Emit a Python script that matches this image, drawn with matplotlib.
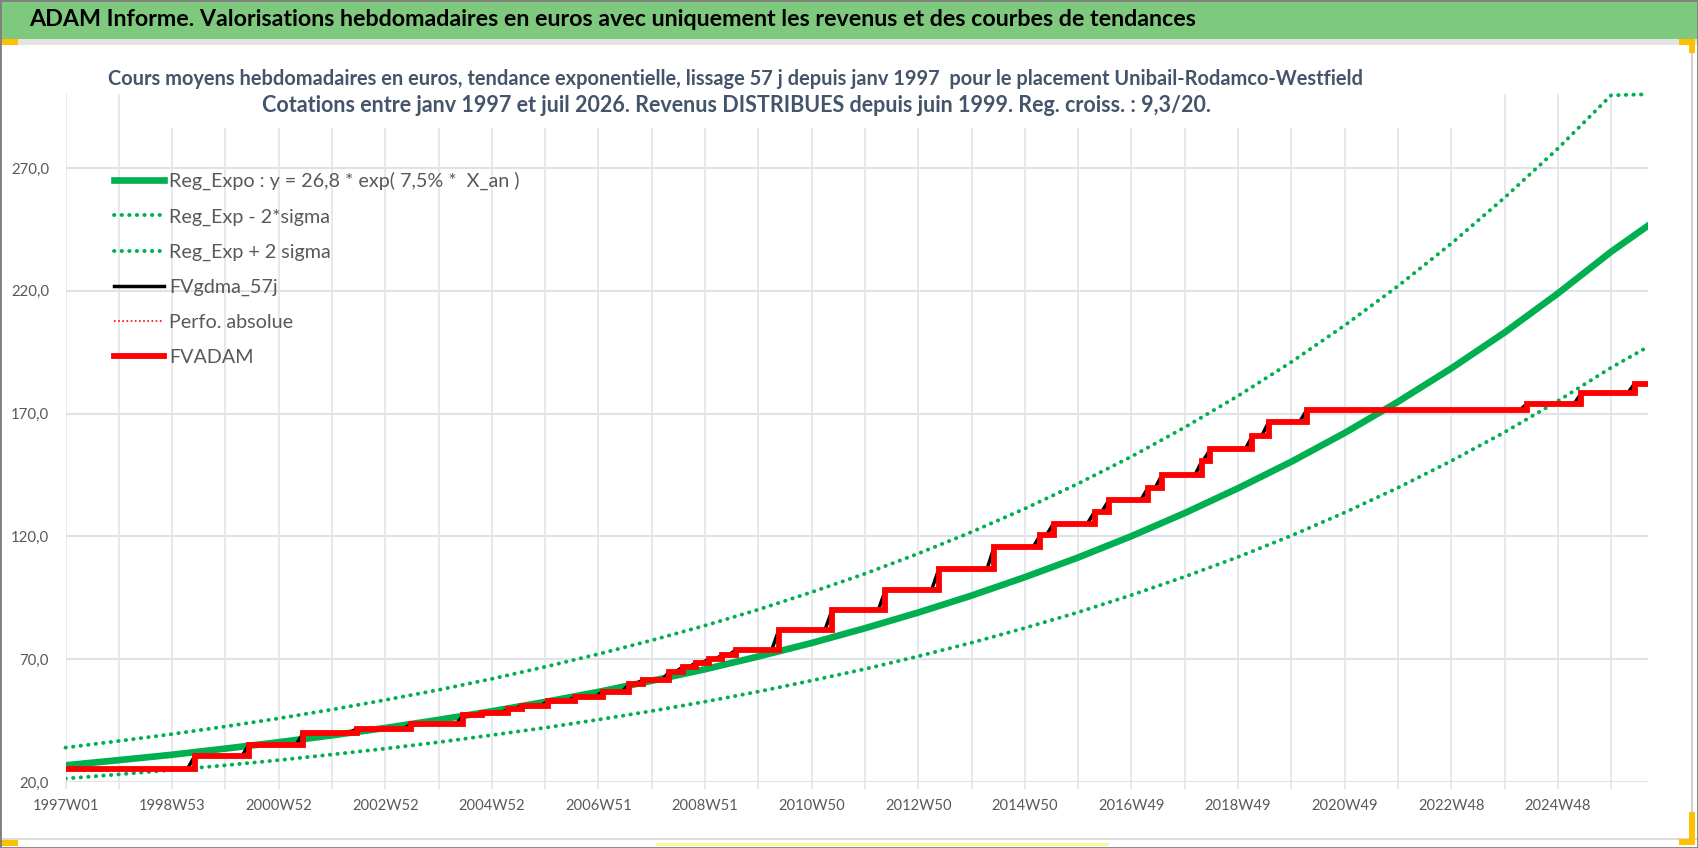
import matplotlib
matplotlib.use("Agg")
import matplotlib.pyplot as plt
from matplotlib.patches import Rectangle

W, H = 1698, 848
DPI = 100

# ---- data (x = week index since 1997W01) ----
week_labels = ["1997W01", "1998W53", "2000W52", "2002W52", "2004W52", "2006W51",
               "2008W51", "2010W50", "2012W50", "2014W50", "2016W49", "2018W49",
               "2020W49", "2022W48", "2024W48"]
last_week = 1544

# trend curves, one reading per year + last week
trend_weeks = list(range(0, 1509, 52)) + [last_week]
reg_expo = [26.8, 28.9, 31.1, 33.6, 36.2, 39.0, 42.0, 45.3, 48.8, 52.6, 56.7, 61.2,
            65.9, 71.1, 76.6, 82.6, 89.0, 95.9, 103.4, 111.4, 120.1, 129.5, 139.6,
            150.4, 162.1, 174.8, 188.4, 203.0, 218.9, 235.9, 246.5]
reg_minus = [21.4, 23.1, 24.9, 26.8, 28.9, 31.2, 33.6, 36.2, 39.1, 42.1, 45.4, 48.9,
             52.7, 56.8, 61.3, 66.0, 71.2, 76.7, 82.7, 89.1, 96.1, 103.6, 111.6,
             120.3, 129.7, 139.8, 150.7, 162.4, 175.1, 188.7, 197.2]
reg_plus = [34.0, 36.7, 39.5, 42.6, 45.9, 49.5, 53.4, 57.5, 62.0, 66.9, 72.1, 77.7,
            83.7, 90.2, 97.3, 104.8, 113.0, 121.8, 131.3, 141.5, 152.5, 164.4, 177.2,
            191.0, 205.9, 221.9, 239.2, 257.9, 277.9, 299.6, 300.0]

# FVADAM: week of each step and level after it
step_weeks = [0, 126, 179, 232, 284, 337, 388, 406, 432, 445, 471, 497, 524, 550,
              563, 589, 602, 615, 628, 641, 654, 696, 748, 800, 852, 906, 951, 964,
              1004, 1018, 1056, 1070, 1109, 1117, 1158, 1174, 1211, 1426, 1479, 1531]
fvadam = [25.4, 30.5, 35.2, 40.0, 41.7, 43.5, 47.2, 48.2, 49.7, 51.1, 53.0, 54.7,
          56.8, 59.8, 61.5, 64.9, 66.7, 68.6, 70.1, 71.7, 73.7, 82.0, 90.0, 98.2,
          106.6, 115.6, 120.5, 125.2, 130.0, 134.7, 139.7, 145.1, 150.8, 155.5,
          160.9, 166.6, 171.4, 174.1, 178.3, 182.2]
smooth_lead = 7  # FVgdma_57j climbs this many weeks before each step

y_ticks = [20, 70, 120, 170, 220, 270]

legend_labels = ["Reg_Expo : y = 26,8 * exp( 7,5% *  X_an )", "Reg_Exp - 2*sigma",
                 "Reg_Exp + 2 sigma", "FVgdma_57j", "Perfo. absolue", "FVADAM"]

title = ("ADAM Informe. Valorisations hebdomadaires en euros avec uniquement "
         "les revenus et des courbes de tendances")
sub1 = ("Cours moyens hebdomadaires en euros, tendance exponentielle, lissage 57 j "
        "depuis janv 1997  pour le placement Unibail-Rodamco-Westfield")
sub2 = ("Cotations entre janv 1997 et juil 2026. Revenus DISTRIBUES depuis juin 1999. "
        "Reg. croiss. : 9,3/20.")

GREEN = "#00B050"
GRID = "#DFE2E8"
GREY_TXT = "#595959"
DOTS = (0, (0.1, 1.85))

plt.rcParams["font.family"] = ["Lato", "DejaVu Sans"]

fig = plt.figure(figsize=(W / DPI, H / DPI), dpi=DPI)


def fx(px):
    return px / W


def fy(py):
    return 1 - py / H


def box(x0, y0, x1, y1, color, z=1):
    fig.patches.append(Rectangle((fx(x0), fy(y1)), fx(x1) - fx(x0), fy(y0) - fy(y1),
                                 transform=fig.transFigure, facecolor=color,
                                 edgecolor="none", zorder=z))


ax = fig.add_axes([fx(65.5), fy(782), fx(1648) - fx(65.5), fy(94.3) - fy(782)])

ax.plot(trend_weeks, reg_expo, color=GREEN, lw=4.8, label=legend_labels[0])
ax.plot(trend_weeks, reg_minus, color=GREEN, lw=2.8, ls=DOTS, dash_capstyle="round",
        label=legend_labels[1])
ax.plot(trend_weeks, reg_plus, color=GREEN, lw=2.8, ls=DOTS, dash_capstyle="round",
        clip_on=False, label=legend_labels[2])

gx, gy = [step_weeks[0]], [fvadam[0]]
for i in range(1, len(step_weeks)):
    gx += [step_weeks[i] - smooth_lead, step_weeks[i]]
    gy += [fvadam[i - 1], fvadam[i]]
gx.append(last_week)
gy.append(fvadam[-1])
ax.plot(gx, gy, color="black", lw=2.5, label=legend_labels[3])

sx = step_weeks + [last_week]
sy = fvadam + [fvadam[-1]]
ax.step(sx, sy, where="post", color="red", lw=1.2, ls=(0, (1, 1.5)),
        label=legend_labels[4])
ax.step(sx, sy, where="post", color="red", lw=4.2, solid_joinstyle="miter",
        label=legend_labels[5])

ax.set_xlim(0, last_week)
ax.set_ylim(20, 300)
ax.set_xticks(range(0, 1457, 104))
ax.set_xticklabels(week_labels)
ax.set_xticks(range(0, last_week + 1, 52), minor=True)
ax.set_yticks(y_ticks)
ax.set_yticklabels([f"{v:.1f}".replace(".", ",") for v in y_ticks])
for s in ax.spines.values():
    s.set_visible(False)
ax.set_axisbelow(True)
ax.grid(True, which="both", axis="x", color=GRID, lw=1.1)
ax.grid(True, which="major", axis="y", color=GRID, lw=1.5)
ax.tick_params(axis="x", which="both", length=5, width=1.1, color=GRID, direction="out")
ax.tick_params(axis="x", which="major", pad=7, labelsize=10.6, labelcolor=GREY_TXT)
ax.tick_params(axis="y", length=0, pad=11.9, labelsize=10.8, labelcolor=GREY_TXT)

leg = ax.legend(loc="upper left", bbox_to_anchor=(fx(114), fy(172)),
                bbox_transform=fig.transFigure, frameon=False, fontsize=14.2,
                borderpad=0, borderaxespad=0, handlelength=2.56, handletextpad=0.25,
                labelspacing=0.91)
for t in leg.get_texts():
    t.set_color(GREY_TXT)

# frame decorations
box(0, 0, W, 39, "#7FC97F", z=0)
box(0, 39, W, 45, "#E3E3E3", z=0)
box(0, 838, W, 840, "#DCDCDC", z=0)
box(1691, 45, 1693, 840, "#CFCFCF", z=0)
box(120, 52, 1478, 128, "white", z=2)
for (a, b, c, d) in [(0, 39, 18, 45), (1679, 39, 1695, 45), (1689, 39, 1695, 53),
                     (1689, 812, 1695, 845), (1679, 839, 1695, 845), (0, 840, 18, 846)]:
    box(a, b, c, d, "#FFC000", z=3)
box(656, 843, 1109, 846, "#FFF59D", z=3)
fig.patches.append(Rectangle((0, 0), 1, 1, transform=fig.transFigure, fill=False,
                             edgecolor="#7F7F7F", lw=2, zorder=4))

t0 = fig.text(fx(29), fy(19), title, ha="left", va="center", fontweight="bold",
              fontsize=16, color="black")
t1 = fig.text(fx(736), fy(79), sub1, ha="center", va="center", fontweight="bold",
              fontsize=13, color="#44546A", zorder=5)
t2 = fig.text(fx(736), fy(105), sub2, ha="center", va="center", fontweight="bold",
              fontsize=13, color="#44546A", zorder=5)

renderer = fig.canvas.get_renderer()
for txt, width in [(t0, 1178), (t2, 950)]:
    w = txt.get_window_extent(renderer).width
    txt.set_fontsize(txt.get_fontsize() * width / w)
t1.set_fontsize(t2.get_fontsize() * 0.93)

fig.savefig("out.png", dpi=DPI)
